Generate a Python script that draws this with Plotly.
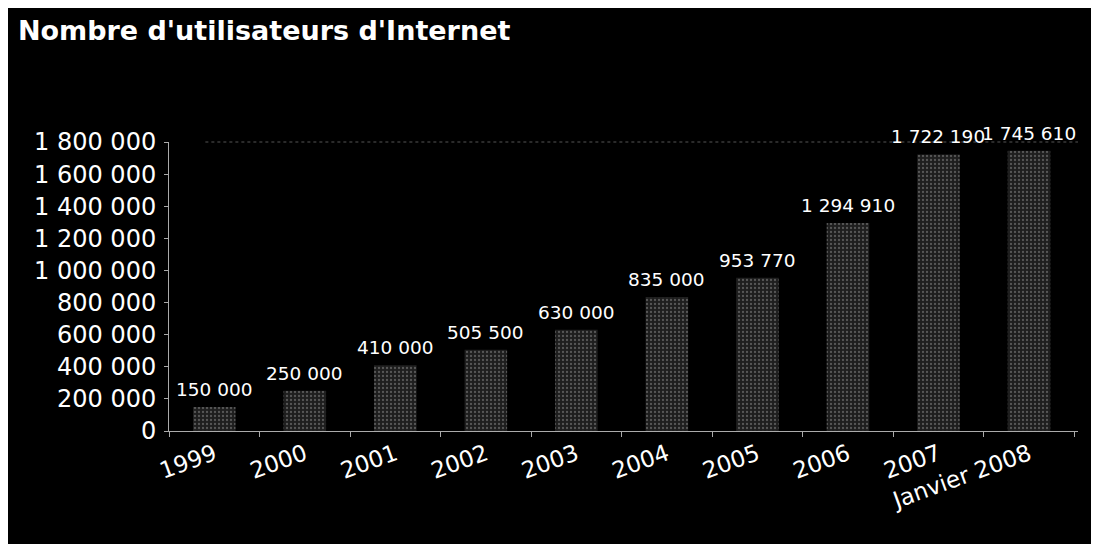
import plotly.graph_objects as go

categories = ["1999", "2000", "2001", "2002", "2003", "2004", "2005", "2006", "2007", "Janvier 2008"]
users = [150000, 250000, 410000, 505500, 630000, 835000, 953770, 1294910, 1722190, 1745610]
y_ticks = [0, 200000, 400000, 600000, 800000, 1000000, 1200000, 1400000, 1600000, 1800000]
title_text = "Nombre d'utilisateurs d'Internet"


def fmt(v):
    return f"{v:,}".replace(",", " ")


fig = go.Figure()
fig.add_trace(go.Bar(
    x=categories,
    y=users,
    marker=dict(
        color="#1e1e1e",
        line=dict(width=0),
        pattern=dict(shape=".", fgcolor="#8f8f8f", bgcolor="#1e1e1e", size=4, solidity=0.25),
    ),
    hoverinfo="skip",
))

annotations = []
for i, v in enumerate(users):
    annotations.append(dict(
        x=i, y=v, xref="x", yref="y", text=fmt(v), showarrow=False,
        yanchor="bottom", yshift=5,
        font=dict(family="DejaVu Sans", size=18.5, color="white"),
    ))

fig.update_layout(
    width=1099, height=544,
    paper_bgcolor="black", plot_bgcolor="black",
    margin=dict(l=161, r=29, t=134, b=121),
    bargap=0.53,
    showlegend=False,
    title=dict(
        text=title_text, x=0.009, xanchor="left", xref="container",
        y=0.958, yanchor="middle", yref="container",
        font=dict(family="DejaVu Sans", size=27, color="white", weight="bold"),
    ),
    annotations=annotations,
    shapes=[dict(type="line", xref="paper", yref="paper", x0=0.04, x1=1, y0=1, y1=1,
                 line=dict(color="#555", width=1, dash="dot"))],
)
fig.update_xaxes(
    type="category", tickangle=-20, tickson="boundaries",
    ticks="outside", ticklen=5, tickcolor="#aaa",
    showline=True, linecolor="#aaa", linewidth=1, showgrid=False,
    tickfont=dict(family="DejaVu Sans", size=23, color="white"),
)
fig.update_yaxes(
    range=[0, 1800000], tickvals=y_ticks, ticktext=[fmt(v) for v in y_ticks],
    ticks="outside", ticklen=4, tickcolor="#aaa", ticklabelstandoff=3,
    showline=True, linecolor="#aaa", linewidth=1, showgrid=False, zeroline=False,
    tickfont=dict(family="DejaVu Sans", size=24, color="white"),
)

fig.write_html("out.html")
